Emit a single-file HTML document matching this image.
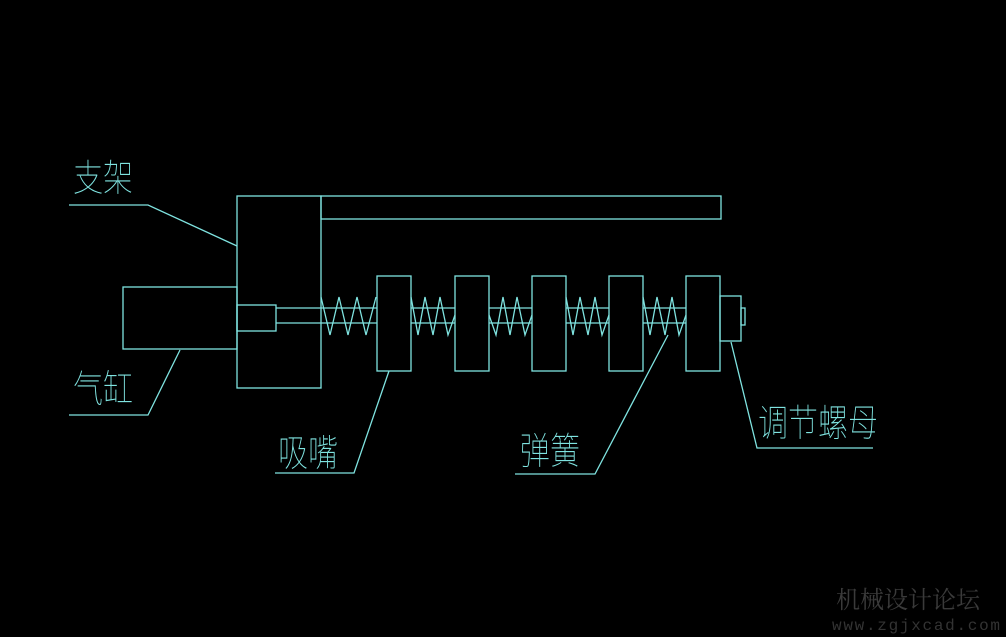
<!DOCTYPE html>
<html><head><meta charset="utf-8"><style>
html,body{margin:0;padding:0;background:#000;width:1006px;height:637px;overflow:hidden}
svg{display:block}
.t{font-family:"Liberation Sans","WenQuanYi Zen Hei","Noto Sans CJK SC",sans-serif;fill:#7fe3e0;font-size:30px;font-weight:100}
</style></head><body>
<svg width="1006" height="637" viewBox="0 0 1006 637" xmlns="http://www.w3.org/2000/svg">
<g fill="none" stroke="#7fe3e0" stroke-width="1.3">
<rect x="237" y="196" width="84" height="192"/>
<rect x="321" y="196" width="400" height="23"/>
<rect x="123" y="287" width="114" height="62"/>
<rect x="237" y="305" width="39" height="26"/>
<line x1="276" y1="308" x2="720" y2="308"/>
<line x1="276" y1="323" x2="720" y2="323"/>
<rect x="377" y="276" width="34" height="95" fill="#000"/>
<rect x="455" y="276" width="34" height="95" fill="#000"/>
<rect x="532" y="276" width="34" height="95" fill="#000"/>
<rect x="609" y="276" width="34" height="95" fill="#000"/>
<rect x="686" y="276" width="34" height="95" fill="#000"/>
<rect x="720" y="296" width="21" height="45"/>
<rect x="741" y="308" width="4" height="17"/>
<polyline points="321,297 330,335 339,297 348,335 357,297 366,335 376,297"/>
<polyline points="411,297 418,335 425,297 433,335 440,297 448,335 455,315"/>
<polyline points="489,315 496,335 503,297 510,335 517,297 525,335 532,315"/>
<polyline points="566,297 573,335 580,297 588,335 595,297 602,335 609,315"/>
<polyline points="643,297 650,335 657,297 665,335 672,297 679,335 686,315"/>
<polyline points="69,205 148,205 237,246"/>
<polyline points="180,350 148,415 69,415"/>
<polyline points="389,371 354,473 275,473"/>
<polyline points="668,335 595,474 515,474"/>
<polyline points="731,342 757,448 873,448"/>
</g>
<text class="t" transform="translate(73,191) scale(1,1.25)">支架</text>
<text class="t" transform="translate(73,402) scale(1,1.25)">气缸</text>
<text class="t" transform="translate(278,466) scale(1,1.25)">吸嘴</text>
<text class="t" transform="translate(520,464) scale(1,1.25)">弹簧</text>
<text class="t" transform="translate(758,436) scale(1,1.25)">调节螺母</text>
<text x="836" y="608" font-family="'Noto Serif CJK SC','WenQuanYi Zen Hei',serif" font-size="24" fill="#3a3a3a">机械设计论坛</text>
<text x="832" y="630" font-family="'Liberation Mono',monospace" font-size="16" fill="#333" textLength="168">www.zgjxcad.com</text>
</svg>
</body></html>
